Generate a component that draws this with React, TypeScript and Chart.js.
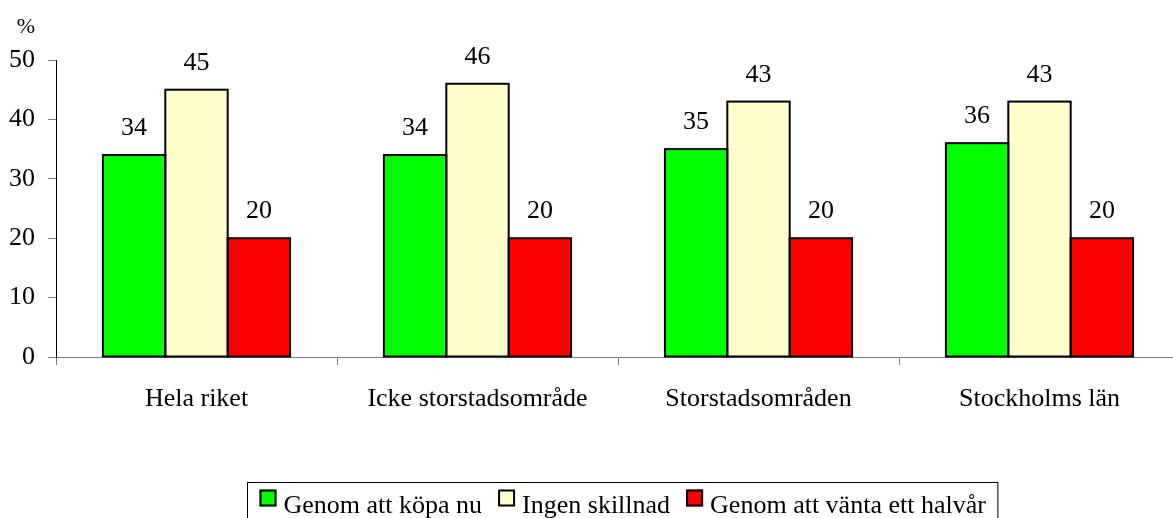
import React, { useEffect, useRef } from "react";
import { Chart, registerables } from "chart.js";

Chart.register(...registerables);

const categories = ["Hela riket", "Icke storstadsområde", "Storstadsområden", "Stockholms län"];
const seriesNames = ["Genom att köpa nu", "Ingen skillnad", "Genom att vänta ett halvår"];
const buyNow = [34, 34, 35, 36];
const noDifference = [45, 46, 43, 43];
const waitHalfYear = [20, 20, 20, 20];
const seriesColors = ["#00FF00", "#FFFFCC", "#FF0000"];
const yMin = 0;
const yMax = 50;
const yStep = 10;
const unitLabel = "%";

const FONT = "'Liberation Serif', 'Times New Roman', serif";
const FONT_SIZE = 26;

const barOutlinePlugin = {
  id: "barOutline",
  afterDatasetsDraw(chart: any) {
    const ctx = chart.ctx;
    ctx.save();
    ctx.strokeStyle = "#000000";
    ctx.lineWidth = 2;
    chart.data.datasets.forEach((_ds: any, i: number) => {
      const meta = chart.getDatasetMeta(i);
      meta.data.forEach((bar: any) => {
        const { x, y, base, width } = bar.getProps(["x", "y", "base", "width"], true);
        ctx.strokeRect(x - width / 2, y, width, base - y);
      });
    });
    ctx.restore();
  },
};

const valueLabelPlugin = {
  id: "valueLabels",
  afterDatasetsDraw(chart: any) {
    const ctx = chart.ctx;
    ctx.save();
    ctx.fillStyle = "#000000";
    ctx.font = `${FONT_SIZE}px ${FONT}`;
    ctx.textAlign = "center";
    ctx.textBaseline = "alphabetic";
    chart.data.datasets.forEach((ds: any, i: number) => {
      const meta = chart.getDatasetMeta(i);
      meta.data.forEach((bar: any, j: number) => {
        const { x, y } = bar.getProps(["x", "y"], true);
        ctx.fillText(String(ds.data[j]), x, y - 20);
      });
    });
    ctx.restore();
  },
};

const unitPlugin = {
  id: "unitLabel",
  afterDraw(chart: any) {
    const ctx = chart.ctx;
    const yScale = chart.scales.y;
    ctx.save();
    ctx.fillStyle = "#000000";
    ctx.font = `${FONT_SIZE - 4}px ${FONT}`;
    ctx.textAlign = "right";
    ctx.textBaseline = "alphabetic";
    ctx.fillText(unitLabel, yScale.right - 8 - 13, chart.chartArea.top - 27);
    ctx.restore();
  },
};

const legendPlugin = {
  id: "customLegend",
  afterDraw(chart: any) {
    const ctx = chart.ctx;
    const area = chart.chartArea;
    ctx.save();
    ctx.font = `${FONT_SIZE}px ${FONT}`;
    const box = 17;
    const boxGap = 7;
    const itemGap = 16;
    const pad = 12;
    const widths = chart.data.datasets.map((ds: any) => ctx.measureText(ds.label).width);
    let total = pad * 2;
    widths.forEach((w: number, i: number) => {
      total += box + boxGap + w + (i > 0 ? itemGap : 0);
    });
    const left = Math.round((area.left + area.right) / 2 + 4 - total / 2) + 0.5;
    const top = area.bottom + 125.5;
    ctx.strokeStyle = "#000000";
    ctx.lineWidth = 1;
    ctx.strokeRect(left, top, total, 46);
    let x = left + pad;
    chart.data.datasets.forEach((ds: any, i: number) => {
      const sy = top + 7;
      ctx.fillStyle = ds.backgroundColor;
      ctx.fillRect(x, sy, box, box);
      ctx.lineWidth = 2;
      ctx.strokeStyle = "#000000";
      ctx.strokeRect(x + 1, sy + 1, box - 2, box - 2);
      ctx.fillStyle = "#000000";
      ctx.textAlign = "left";
      ctx.textBaseline = "alphabetic";
      ctx.fillText(ds.label, x + box + boxGap, top + 30);
      x += box + boxGap + widths[i] + itemGap;
    });
    ctx.restore();
  },
};

export default function App() {
  const canvasRef = useRef<HTMLCanvasElement | null>(null);

  useEffect(() => {
    const canvas = canvasRef.current;
    if (!canvas) return;
    const seriesValues = [buyNow, noDifference, waitHalfYear];
    const chart = new Chart(canvas, {
      type: "bar",
      data: {
        labels: categories,
        datasets: seriesNames.map((name, i) => ({
          label: name,
          data: seriesValues[i],
          backgroundColor: seriesColors[i],
          borderWidth: 0,
          categoryPercentage: 0.666,
          barPercentage: 1,
        })),
      },
      options: {
        responsive: false,
        animation: false,
        devicePixelRatio: 1,
        layout: { padding: { top: 60, right: 10, bottom: 0, left: 0 } },
        plugins: {
          legend: { display: false },
          tooltip: { enabled: false },
          title: { display: false },
        },
        scales: {
          x: {
            type: "category",
            offset: true,
            grid: {
              offset: true,
              drawOnChartArea: false,
              drawTicks: true,
              tickLength: 8,
              color: "#808080",
              lineWidth: 1,
            },
            border: { display: true, color: "#808080", width: 1 },
            ticks: {
              color: "#000000",
              font: { family: FONT, size: FONT_SIZE },
              padding: 19,
              maxRotation: 0,
              autoSkip: false,
            },
            afterFit(scale: any) {
              scale.height = 161;
            },
          },
          y: {
            min: yMin,
            max: yMax,
            grid: {
              drawOnChartArea: false,
              drawTicks: true,
              tickLength: 8,
              color: "#808080",
              lineWidth: 1,
            },
            border: { display: true, color: "#000000", width: 1 },
            ticks: {
              stepSize: yStep,
              color: "#000000",
              font: { family: FONT, size: FONT_SIZE },
              padding: 13,
            },
            afterFit(scale: any) {
              scale.width = 56;
            },
          },
        },
      },
      plugins: [barOutlinePlugin, valueLabelPlugin, unitPlugin, legendPlugin],
    } as any);
    return () => chart.destroy();
  }, []);

  return (
    <div
      style={{
        position: "fixed",
        left: 0,
        top: 0,
        width: 1173,
        height: 518,
        overflow: "hidden",
        background: "#ffffff",
      }}
    >
      <canvas ref={canvasRef} width={1190} height={518} style={{ display: "block" }} />
    </div>
  );
}
